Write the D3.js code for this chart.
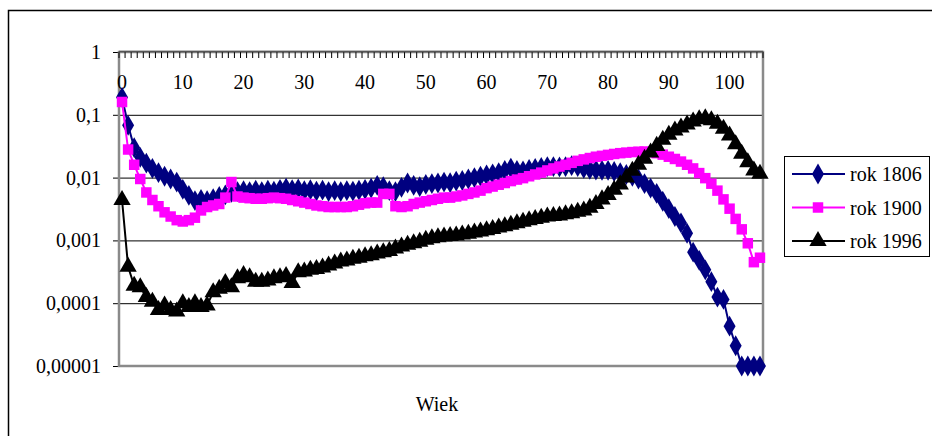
<!DOCTYPE html>
<html><head><meta charset="utf-8">
<script src="https://cdn.jsdelivr.net/npm/d3@7/dist/d3.min.js"></script>
<style>body{margin:0;background:#fff;}svg{display:block;} text{font-family:"Times New Roman",Times,"Liberation Serif",Tinos,"DejaVu Serif",serif !important;}</style>
</head><body><svg id="c" width="932" height="436"></svg>
<script>
const ages = d3.range(0, 106);
const yTickValues = [1, 0.1, 0.01, 0.001, 0.0001, 0.00001];
const yTickLabels = ["1", "0,1", "0,01", "0,001", "0,0001", "0,00001"];
const xTickLabels = [0, 10, 20, 30, 40, 50, 60, 70, 80, 90, 100];
const seriesNames = ["rok 1806", "rok 1900", "rok 1996"];
const xTitle = "Wiek";

const rok1806 = [0.19,0.068,0.030,0.021,0.017,0.014,0.012,0.0105,0.0095,0.0085,
0.0065,0.0052,0.0043,0.0045,0.0043,0.0046,0.0050,0.0053,0.0058,0.0060,
0.0062,0.0060,0.0063,0.0060,0.0063,0.0061,0.0065,0.0068,0.0064,0.0066,
0.0062,0.0064,0.0061,0.0063,0.0060,0.0062,0.0060,0.0062,0.0061,0.0063,
0.0065,0.0068,0.0075,0.0072,0.0062,0.0060,0.0070,0.0082,0.0075,0.0072,
0.0078,0.0080,0.0082,0.0085,0.0083,0.0088,0.0090,0.0095,0.0100,0.0105,
0.0110,0.0115,0.0120,0.0130,0.0142,0.0130,0.0128,0.0135,0.0140,0.0145,
0.0150,0.0150,0.0148,0.0150,0.0155,0.0150,0.0140,0.0135,0.0132,0.0130,
0.0130,0.0125,0.0120,0.0112,0.0105,0.0095,0.0080,0.0068,0.0056,0.0042,
0.0032,0.0024,0.0019,0.0013,0.00065,0.00048,0.00034,0.00022,0.000125,0.000115,
0.000043,0.000021,0.00001,0.00001,0.00001,0.00001];

const rok1900 = [0.16,0.028,0.016,0.0095,0.0058,0.0044,0.0035,0.0028,0.0024,0.0021,
0.0020,0.0021,0.0023,0.0030,0.0034,0.0036,0.0038,0.0048,0.0085,0.0050,
0.0048,0.0047,0.0046,0.0046,0.0047,0.0048,0.0047,0.0046,0.0044,0.0042,
0.0040,0.0038,0.0036,0.0035,0.0034,0.0034,0.0034,0.0034,0.0035,0.0037,
0.0039,0.0040,0.0040,0.0055,0.0055,0.0035,0.0034,0.0035,0.0038,0.0040,
0.0042,0.0044,0.0046,0.0048,0.0048,0.0050,0.0052,0.0055,0.0058,0.0062,
0.0068,0.0072,0.0077,0.0082,0.0088,0.0093,0.0098,0.0105,0.0112,0.0120,
0.0130,0.0140,0.0150,0.0160,0.0172,0.0185,0.0195,0.0205,0.0215,0.0222,
0.0230,0.0238,0.0245,0.0250,0.0255,0.0258,0.0260,0.0255,0.0245,0.0232,
0.0215,0.0198,0.0180,0.0160,0.0140,0.0118,0.0098,0.0080,0.0062,0.0045,
0.0032,0.0022,0.0015,0.00090,0.00045,0.00053];

const rok1996 = [0.0044,0.00038,0.00019,0.00018,0.000125,0.000105,0.000078,0.000092,0.000078,0.000074,
0.0001,0.000087,0.0001,0.000087,0.000092,0.00015,0.00017,0.00021,0.00018,0.00025,
0.00028,0.00026,0.00022,0.00022,0.00023,0.00025,0.00026,0.00027,0.00021,0.00031,
0.00032,0.00034,0.00035,0.00037,0.00040,0.00043,0.00046,0.00048,0.00051,0.00053,
0.00056,0.00058,0.00062,0.00065,0.00068,0.00074,0.00080,0.00085,0.00090,0.00095,
0.00102,0.00108,0.00112,0.00115,0.00118,0.00120,0.00124,0.00128,0.00133,0.00138,
0.00145,0.00152,0.00160,0.00168,0.00178,0.00188,0.00198,0.00210,0.00220,0.00230,
0.00240,0.00245,0.00250,0.00260,0.00270,0.00285,0.00300,0.00330,0.00380,0.00450,
0.00530,0.00640,0.00780,0.0100,0.0128,0.0160,0.0200,0.0250,0.0320,0.0400,
0.0480,0.0560,0.0630,0.0700,0.0780,0.0850,0.0880,0.0820,0.0720,0.0600,
0.0470,0.0340,0.0240,0.0175,0.0130,0.0115];

const FONT = "'Times New Roman', Times, 'Liberation Serif', Tinos, 'DejaVu Serif', serif";
const FS = 20;
const svg = d3.select("#c");
const L = 119, R = 763, T = 52, B = 366;

// outer chart border
svg.append("rect").attr("x", 8.5).attr("y", 10.5).attr("width", 940).attr("height", 440)
  .attr("fill", "#fff").attr("stroke", "#000").attr("stroke-width", 1.5);

const x = d3.scaleBand().domain(ages).range([L, R]).padding(0);
const y = d3.scaleLog().domain([1e-5, 1]).range([B, T]);
const cx = d => x(d) + x.bandwidth() / 2;

// gridlines + y axis
const yAxis = d3.axisLeft(y).tickValues(yTickValues).tickSize(6).tickPadding(12)
  .tickFormat((d, i) => yTickLabels[i]);
const gy = svg.append("g").attr("transform", `translate(${L},0)`).call(yAxis)
  .attr("font-family", FONT).attr("font-size", FS);
gy.select(".domain").remove();
gy.selectAll(".tick line").attr("x2", R - L).attr("x1", -6).attr("stroke", "#000");
gy.selectAll(".tick text").attr("font-size", FS).attr("font-family", FONT).attr("fill", "#000");

// plot border (gray)
svg.append("rect").attr("x", L).attr("y", T).attr("width", R - L).attr("height", B - T)
  .attr("fill", "none").attr("stroke", "#8a8a8a").attr("stroke-width", 2.5);

// top category axis: minor ticks at band boundaries
const gx = svg.append("g");
gx.selectAll("line.t").data(ages.concat([106])).join("line")
  .attr("x1", d => d < 106 ? x(d) : R).attr("x2", d => d < 106 ? x(d) : R)
  .attr("y1", T).attr("y2", T + 6).attr("stroke", "#000").attr("stroke-width", 1);
gx.append("line").attr("x1", L).attr("x2", R).attr("y1", T - 0.5).attr("y2", T - 0.5)
  .attr("stroke", "#555").attr("stroke-width", 1.5);
gx.selectAll("text").data(xTickLabels).join("text")
  .attr("x", d => cx(d)).attr("y", 89).attr("text-anchor", "middle")
  .attr("font-family", FONT).attr("font-size", FS).text(d => d);

// x title
svg.append("text").attr("x", 437).attr("y", 411).attr("text-anchor", "middle")
  .attr("font-family", FONT).attr("font-size", FS).text(xTitle);

const series = [
  {name: seriesNames[0], data: rok1806, color: "#000080", sym: d3.symbolDiamond, size: 125},
  {name: seriesNames[1], data: rok1900, color: "#ff00ff", sym: d3.symbolSquare, size: 110},
  {name: seriesNames[2], data: rok1996, color: "#000000", sym: d3.symbolTriangle, size: 130}
];
const line = d3.line().x((d, i) => cx(ages[i])).y(d => y(d));

series.forEach(s => {
  const g = svg.append("g");
  g.append("path").attr("d", line(s.data)).attr("fill", "none")
    .attr("stroke", s.color).attr("stroke-width", 2);
  g.selectAll("path.m").data(s.data).join("path").attr("class", "m")
    .attr("transform", (d, i) => `translate(${cx(ages[i])},${y(d)})`)
    .attr("d", d3.symbol().type(s.sym).size(s.size)).attr("fill", s.color);
});

// legend
const lg = svg.append("g");
lg.append("rect").attr("x", 784.5).attr("y", 156.5).attr("width", 145).attr("height", 100)
  .attr("fill", "#fff").attr("stroke", "#000").attr("stroke-width", 1);
series.forEach((s, i) => {
  const yy = 174 + i * 33.5;
  lg.append("line").attr("x1", 792).attr("x2", 845).attr("y1", yy).attr("y2", yy)
    .attr("stroke", s.color).attr("stroke-width", 2);
  lg.append("path").attr("transform", `translate(818,${yy})`)
    .attr("d", d3.symbol().type(s.sym).size(s.size)).attr("fill", s.color);
  lg.append("text").attr("x", 850).attr("y", yy + 7).attr("font-family", FONT)
    .attr("font-size", FS).text(s.name);
});
</script></body></html>
